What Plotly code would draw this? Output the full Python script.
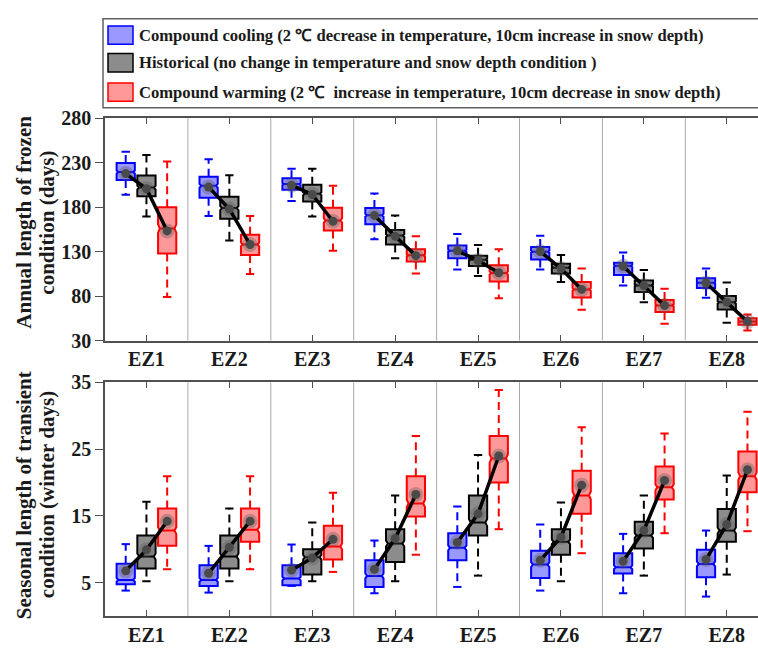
import plotly.graph_objects as go

# ---------------- data ----------------
CATEGORIES = ["EZ1", "EZ2", "EZ3", "EZ4", "EZ5", "EZ6", "EZ7", "EZ8"]

FROZEN_TICKS = [30, 80, 130, 180, 230, 280]
TRANSIENT_TICKS = [5, 15, 25, 35]

# Annual length of frozen condition (days)
FROZEN_COOL_LO = [194, 170, 187, 144, 110, 110, 92, 78]
FROZEN_COOL_Q1 = [210.5, 190.6, 199.7, 160.9, 122.6, 121.2, 103.8, 89.2]
FROZEN_COOL_MED = [219.6, 204, 206, 171, 131, 130, 114, 95]
FROZEN_COOL_Q3 = [229.7, 214.1, 212.4, 179, 137, 135.3, 117.5, 100]
FROZEN_COOL_UP = [242.4, 234, 223.2, 195.3, 149.7, 147.9, 129.1, 110.9]
FROZEN_COOL_MEAN = [217.8, 202.6, 204.7, 170.7, 130.9, 130.2, 113.6, 94.7]

FROZEN_HIST_LO = [169.6, 142.4, 169.6, 122.6, 102.7, 95.8, 73, 50.1]
FROZEN_HIST_Q1 = [192.4, 167, 186.3, 138.1, 113.9, 105.5, 84.6, 65]
FROZEN_HIST_MED = [202, 179, 195, 148, 121, 112, 92, 73]
FROZEN_HIST_Q3 = [215.6, 191.7, 205.1, 154.4, 125.5, 116.4, 97.6, 80.2]
FROZEN_HIST_UP = [238.7, 216, 223.2, 170.7, 137.4, 126.2, 109.2, 95.4]
FROZEN_HIST_MEAN = [200.7, 178, 194.2, 147.2, 120, 110.9, 91.8, 73]

FROZEN_WARM_LO = [79.1, 104.9, 130.9, 105.5, 77.7, 64.7, 48.8, 41.2]
FROZEN_WARM_Q1 = [128, 126.2, 153.7, 119, 96.5, 78.4, 62.1, 47.7]
FROZEN_WARM_MED = [156, 138, 165, 126, 106, 87.5, 69.5, 51.3]
FROZEN_WARM_Q3 = [179.8, 149, 179.4, 132.7, 114.6, 95.8, 75.6, 55]
FROZEN_WARM_UP = [231.5, 170, 204, 147.2, 132.7, 110.9, 88.2, 59.3]
FROZEN_WARM_MEAN = [153.3, 138, 164.2, 125.5, 106.3, 87.5, 69.4, 51.3]

# Seasonal length of transient condition (winter days)
TRANS_COOL_LO = [3.8, 3.5, 4.5, 3.4, 4.35, 3.8, 3.4, 2.9]
TRANS_COOL_Q1 = [4.74, 4.5, 4.6, 4.35, 8.35, 5.7, 6.37, 5.8]
TRANS_COOL_MED = [5.4, 5.4, 5.6, 6.0, 10.2, 7.7, 7.3, 7.8]
TRANS_COOL_Q3 = [7.81, 7.6, 7.6, 8.35, 12.4, 9.75, 9.4, 9.9]
TRANS_COOL_UP = [10.76, 10.5, 10.7, 11.3, 16.4, 13.7, 12.3, 12.8]
TRANS_COOL_MEAN = [6.76, 6.4, 6.86, 7.0, 11.0, 8.35, 8.2, 8.45]

TRANS_HIST_LO = [5.2, 5.2, 5.2, 5.2, 6.04, 5.2, 6.04, 6.2]
TRANS_HIST_Q1 = [7.1, 7.1, 6.2, 8.1, 12.05, 9.17, 10.1, 11.1]
TRANS_HIST_MED = [8.9, 8.9, 8.8, 10.85, 14.0, 11.1, 12.05, 12.8]
TRANS_HIST_Q3 = [12.05, 12.05, 10.0, 13.0, 18.06, 13.0, 14.1, 16.04]
TRANS_HIST_UP = [17.1, 16.1, 14.0, 18.06, 24.1, 17.0, 18.06, 21.05]
TRANS_HIST_MEAN = [9.9, 10.3, 8.7, 11.6, 15.3, 11.8, 12.8, 13.7]

TRANS_WARM_LO = [7.0, 7.0, 6.6, 9.17, 13.0, 9.4, 12.4, 12.7]
TRANS_WARM_Q1 = [10.5, 11.1, 8.45, 14.9, 20.0, 15.3, 17.44, 18.55]
TRANS_WARM_MED = [12.8, 12.9, 10.4, 16.86, 23.6, 18.06, 19.27, 20.95]
TRANS_WARM_Q3 = [16.1, 16.1, 13.5, 20.95, 26.96, 21.77, 22.4, 24.65]
TRANS_WARM_UP = [20.95, 20.95, 18.45, 26.96, 33.85, 28.26, 27.35, 30.6]
TRANS_WARM_MEAN = [14.2, 14.2, 11.5, 18.2, 23.97, 19.6, 20.3, 21.9]

LEGEND_LABELS = [
    "Compound cooling (2 \u2103 decrease in temperature, 10cm increase in snow depth)",
    "Historical (no change in temperature and snow depth condition )",
    "Compound warming (2 \u2103  increase in temperature, 10cm decrease in snow depth)",
]
Y_TITLES_TOP = ["Annual length of frozen", "condition (days)"]
Y_TITLES_BOTTOM = ["Seasonal length of transient", "condition (winter days)"]

# ---------------- styling ----------------
W, H = 758, 654
LM = 105
FONT = "Liberation Serif"
EDGE = ["#0000FF", "#000000", "#FF0000"]
FILL = ["rgba(0,0,255,0.40)", "rgba(0,0,0,0.45)", "rgba(255,0,0,0.40)"]
OFFSETS = [-0.25, 0.0, 0.25]
BOX_W = 0.22
CAP_HW = 0.05
FRAME = "#505050"


def px_x(px):
    return (px - LM) / (W - LM)


def px_y(py):
    return 1 - py / H


fig = go.Figure()

panels = [
    ("x", "y", [
        (FROZEN_COOL_LO, FROZEN_COOL_Q1, FROZEN_COOL_MED, FROZEN_COOL_Q3, FROZEN_COOL_UP, FROZEN_COOL_MEAN),
        (FROZEN_HIST_LO, FROZEN_HIST_Q1, FROZEN_HIST_MED, FROZEN_HIST_Q3, FROZEN_HIST_UP, FROZEN_HIST_MEAN),
        (FROZEN_WARM_LO, FROZEN_WARM_Q1, FROZEN_WARM_MED, FROZEN_WARM_Q3, FROZEN_WARM_UP, FROZEN_WARM_MEAN),
    ]),
    ("x2", "y2", [
        (TRANS_COOL_LO, TRANS_COOL_Q1, TRANS_COOL_MED, TRANS_COOL_Q3, TRANS_COOL_UP, TRANS_COOL_MEAN),
        (TRANS_HIST_LO, TRANS_HIST_Q1, TRANS_HIST_MED, TRANS_HIST_Q3, TRANS_HIST_UP, TRANS_HIST_MEAN),
        (TRANS_WARM_LO, TRANS_WARM_Q1, TRANS_WARM_MED, TRANS_WARM_Q3, TRANS_WARM_UP, TRANS_WARM_MEAN),
    ]),
]

n = len(CATEGORIES)
for xa, ya, series in panels:
    for s, (lo, q1, med, q3, up, mean) in enumerate(series):
        pos = [i + 1 + OFFSETS[s] for i in range(n)]
        # dashed whiskers
        wx, wy = [], []
        for p, a, b, c, d in zip(pos, lo, q1, q3, up):
            wx += [p, p, None, p, p, None]
            wy += [c, d, None, b, a, None]
        fig.add_trace(go.Scatter(x=wx, y=wy, mode="lines", xaxis=xa, yaxis=ya,
                                 line=dict(color=EDGE[s], width=2, dash="8px,5px"),
                                 hoverinfo="skip", showlegend=False))
        # caps
        cx, cy = [], []
        for p, a, d in zip(pos, lo, up):
            cx += [p - CAP_HW, p + CAP_HW, None, p - CAP_HW, p + CAP_HW, None]
            cy += [d, d, None, a, a, None]
        fig.add_trace(go.Scatter(x=cx, y=cy, mode="lines", xaxis=xa, yaxis=ya,
                                 line=dict(color=EDGE[s], width=2),
                                 hoverinfo="skip", showlegend=False))
        # boxes
        fig.add_trace(go.Box(x=pos, q1=q1, median=med, q3=q3,
                             lowerfence=q1, upperfence=q3,
                             notched=True,
                             notchspan=[0.09 * (c - b) for b, c in zip(q1, q3)],
                             notchwidth=0.1,
                             width=BOX_W, whiskerwidth=0,
                             fillcolor=FILL[s], line=dict(color=EDGE[s], width=2),
                             boxpoints=False, xaxis=xa, yaxis=ya,
                             hoverinfo="skip", showlegend=False))
    # mean markers + connecting lines
    mx, my = [], []
    for i in range(n):
        for s in range(3):
            mx.append(i + 1 + OFFSETS[s])
            my.append(series[s][5][i])
        mx.append(None)
        my.append(None)
    fig.add_trace(go.Scatter(x=mx, y=my, mode="markers", xaxis=xa, yaxis=ya,
                             marker=dict(size=15, color="rgba(90,90,90,0.35)"),
                             hoverinfo="skip", showlegend=False))
    fig.add_trace(go.Scatter(x=mx, y=my, mode="lines+markers", xaxis=xa, yaxis=ya,
                             line=dict(color="#000000", width=3.5),
                             marker=dict(size=9, color="#4a4a4a"),
                             hoverinfo="skip", showlegend=False))

shapes = []
for xa, ya, _ in panels:
    for k in range(1, n):
        shapes.append(dict(type="line", xref=xa, yref=ya + " domain",
                           x0=k + 0.5, x1=k + 0.5, y0=0, y1=1,
                           line=dict(color="#a8a8a8", width=1), layer="below"))

# manual legend
shapes.append(dict(type="rect", xref="paper", yref="paper",
                   x0=px_x(103), x1=px_x(770), y0=px_y(100), y1=px_y(8),
                   line=dict(color="#606060", width=1.5), fillcolor="rgba(0,0,0,0)"))
annotations = []
row_c = [25, 53.5, 84]
for s in range(3):
    shapes.append(dict(type="rect", xref="paper", yref="paper",
                       x0=px_x(108), x1=px_x(133), y0=px_y(row_c[s] + 9.5), y1=px_y(row_c[s] - 9.5),
                       line=dict(color=EDGE[s], width=1.5), fillcolor=FILL[s]))
    annotations.append(dict(xref="paper", yref="paper", x=px_x(137), y=px_y(row_c[s]),
                            xanchor="left", yanchor="middle", showarrow=False,
                            text=LEGEND_LABELS[s],
                            font=dict(family=FONT, size=16.6, color="#1a1a1a", weight="bold")))

# y titles
for lines, cy in [(Y_TITLES_TOP, 219), (Y_TITLES_BOTTOM, 501)]:
    for txt, cx in zip(lines, [24, 47]):
        annotations.append(dict(xref="paper", yref="paper", x=px_x(cx), y=px_y(cy),
                                xanchor="center", yanchor="middle", showarrow=False,
                                textangle=-90, text=txt,
                                font=dict(family=FONT, size=21, color="#1a1a1a", weight="bold")))

tickfont = dict(family=FONT, size=20, color="#1a1a1a", weight="bold")
xcommon = dict(range=[0.5, 8.377], domain=[0, 1], tickmode="array",
               tickvals=list(range(1, n + 1)), ticktext=CATEGORIES,
               ticks="inside", ticklen=6, tickwidth=1.2, tickcolor=FRAME,
               showline=True, linecolor=FRAME, linewidth=1.5, mirror="ticks",
               showgrid=False, zeroline=False, tickfont=tickfont)
ycommon = dict(tickmode="array", ticks="outside", ticklen=8, tickwidth=1.2,
               tickcolor=FRAME, showline=True, linecolor=FRAME, linewidth=1.5,
               showgrid=False, zeroline=False, tickfont=tickfont)

fig.update_layout(
    width=W, height=H,
    margin=dict(l=LM, r=0, t=0, b=0),
    paper_bgcolor="white", plot_bgcolor="white",
    showlegend=False,
    boxmode="overlay",
    xaxis=dict(anchor="y", **xcommon),
    xaxis2=dict(anchor="y2", **xcommon),
    yaxis=dict(anchor="x", domain=[px_y(341), px_y(111)], range=[30, 280],
               tickvals=FROZEN_TICKS, **ycommon),
    yaxis2=dict(anchor="x2", domain=[px_y(626), px_y(384.3)], range=[0, 35],
                tickvals=TRANSIENT_TICKS, **ycommon),
    shapes=shapes,
    annotations=annotations,
)

fig.write_html("out.html")
